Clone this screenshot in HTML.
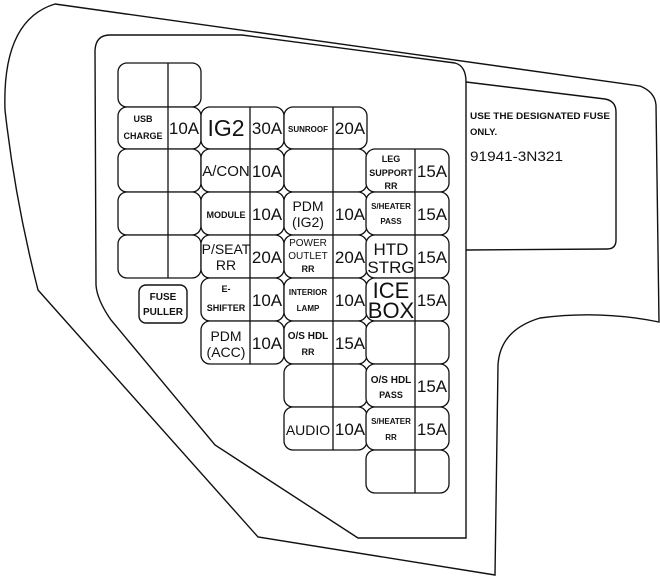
<!DOCTYPE html>
<html><head><meta charset="utf-8"><style>
html,body{margin:0;padding:0;background:#fff;}
svg{display:block;}
text{font-family:"Liberation Sans",sans-serif;fill:#111;}
.a{font-size:17px;text-anchor:middle;}
.s{font-size:9px;text-anchor:middle;font-weight:bold;}
.m{font-size:14px;text-anchor:middle;}
</style></head><body>
<svg width="660" height="581" viewBox="0 0 660 581" xmlns="http://www.w3.org/2000/svg">
<g fill="none" stroke="#111" stroke-width="1.4">
<path d="M55,4 L640,86 Q655,92 656,105 L659,322 Q600,310 540,318 Q500,330 498,365 L495,575 L258,537 L38,290 Q15,200 5,110 Q2,20 55,4 Z"/>
<path d="M110,35 L242,35 L455,63 Q466,66 466,82 L466,530 L466,538 L358,538 L215,445 L111,320 Q97,300 96,285 L95,50 Q96,35 110,35 Z"/>
<path d="M466,82 L605,99 Q616,101 616,112 L616,240 Q616,249 607,249 L466,250"/>
<rect x="139" y="285" width="48" height="38" rx="7"/>
</g>
<g fill="#fff" stroke="#111" stroke-width="1.3">
<rect x="118" y="63" width="83" height="44" rx="9"/>
<rect x="118" y="107" width="83" height="42" rx="9"/>
<rect x="118" y="149" width="83" height="43" rx="9"/>
<rect x="118" y="192" width="83" height="43" rx="9"/>
<rect x="118" y="235" width="83" height="43" rx="9"/>
<rect x="201" y="107" width="83" height="42" rx="9"/>
<rect x="201" y="149" width="83" height="43" rx="9"/>
<rect x="201" y="192" width="83" height="43" rx="9"/>
<rect x="201" y="235" width="83" height="43" rx="9"/>
<rect x="201" y="278" width="83" height="43" rx="9"/>
<rect x="201" y="321" width="83" height="43" rx="9"/>
<rect x="284" y="107" width="83" height="42" rx="9"/>
<rect x="284" y="149" width="83" height="43" rx="9"/>
<rect x="284" y="192" width="83" height="43" rx="9"/>
<rect x="284" y="235" width="83" height="43" rx="9"/>
<rect x="284" y="278" width="83" height="43" rx="9"/>
<rect x="284" y="321" width="83" height="43" rx="9"/>
<rect x="284" y="364" width="83" height="43" rx="9"/>
<rect x="284" y="407" width="83" height="43" rx="9"/>
<rect x="366" y="149" width="83" height="43" rx="9"/>
<rect x="366" y="192" width="83" height="43" rx="9"/>
<rect x="366" y="235" width="83" height="43" rx="9"/>
<rect x="366" y="278" width="83" height="43" rx="9"/>
<rect x="366" y="321" width="83" height="43" rx="9"/>
<rect x="366" y="364" width="83" height="43" rx="9"/>
<rect x="366" y="407" width="83" height="43" rx="9"/>
<rect x="366" y="450" width="83" height="43" rx="9"/>
</g>
<g stroke="#111" stroke-width="1.3">
<line x1="168" y1="63" x2="168" y2="278"/>
<line x1="250" y1="107" x2="250" y2="364"/>
<line x1="333" y1="107" x2="333" y2="450"/>
<line x1="415" y1="149" x2="415" y2="493"/>
</g>
<text class="s" x="143" y="122">USB</text>
<text class="s" x="143" y="139">CHARGE</text>
<text class="a" x="184" y="134">10A</text>
<text x="226" y="136" style="font-size:23px;text-anchor:middle">IG2</text>
<text class="a" x="267" y="134">30A</text>
<text class="m" x="226" y="176" style="font-size:15px">A/CON</text>
<text class="a" x="267" y="177">10A</text>
<text class="s" x="226" y="218">MODULE</text>
<text class="a" x="267" y="220">10A</text>
<text class="m" x="226" y="254">P/SEAT</text>
<text class="m" x="226" y="270">RR</text>
<text class="a" x="267" y="263">20A</text>
<text class="s" x="226" y="292">E-</text>
<text class="s" x="226" y="311">SHIFTER</text>
<text class="a" x="267" y="306">10A</text>
<text class="m" x="226" y="341">PDM</text>
<text class="m" x="226" y="357">(ACC)</text>
<text class="a" x="267" y="349">10A</text>
<text class="s" x="308" y="132" style="font-size:8px">SUNROOF</text>
<text class="a" x="350" y="134">20A</text>
<text class="m" x="308" y="211">PDM</text>
<text class="m" x="308" y="227">(IG2)</text>
<text class="a" x="350" y="220">10A</text>
<text class="s" x="308" y="246" style="font-size:10px;font-weight:normal">POWER</text>
<text class="s" x="308" y="259" style="font-size:10px;font-weight:normal">OUTLET</text>
<text class="s" x="308" y="272">RR</text>
<text class="a" x="350" y="263">20A</text>
<text class="s" x="308" y="295" style="font-size:8px">INTERIOR</text>
<text class="s" x="308" y="311" style="font-size:8px">LAMP</text>
<text class="a" x="350" y="306">10A</text>
<text class="s" x="308" y="339" style="font-size:10px">O/S HDL</text>
<text class="s" x="308" y="355">RR</text>
<text class="a" x="350" y="349">15A</text>
<text class="m" x="308" y="435">AUDIO</text>
<text class="a" x="350" y="435">10A</text>
<text class="s" x="391" y="162">LEG</text>
<text class="s" x="391" y="176">SUPPORT</text>
<text class="s" x="391" y="189">RR</text>
<text class="a" x="432" y="177">15A</text>
<text class="s" x="391" y="209" style="font-size:8px">S/HEATER</text>
<text class="s" x="391" y="224" style="font-size:8px">PASS</text>
<text class="a" x="432" y="220">15A</text>
<text x="391" y="255" style="font-size:17px;text-anchor:middle">HTD</text>
<text x="391" y="273" style="font-size:17px;text-anchor:middle">STRG</text>
<text class="a" x="432" y="263">15A</text>
<text x="391" y="298" style="font-size:22px;text-anchor:middle">ICE</text>
<text x="391" y="318" style="font-size:22px;text-anchor:middle">BOX</text>
<text class="a" x="432" y="306">15A</text>
<text class="s" x="391" y="383" style="font-size:10px">O/S HDL</text>
<text class="s" x="391" y="398">PASS</text>
<text class="a" x="432" y="392">15A</text>
<text class="s" x="391" y="424" style="font-size:8px">S/HEATER</text>
<text class="s" x="391" y="440" style="font-size:8px">RR</text>
<text class="a" x="432" y="435">15A</text>
<text class="s" x="163" y="300" style="font-size:10px">FUSE</text>
<text class="s" x="163" y="315" style="font-size:10px">PULLER</text>
<text x="470" y="119" style="font-size:9.5px;font-weight:bold" textLength="140" lengthAdjust="spacingAndGlyphs">USE THE DESIGNATED FUSE</text>
<text x="470" y="135" style="font-size:9.5px;font-weight:bold">ONLY.</text>
<text x="470" y="161" style="font-size:14px" textLength="93" lengthAdjust="spacingAndGlyphs">91941-3N321</text>
</svg>
</body></html>
